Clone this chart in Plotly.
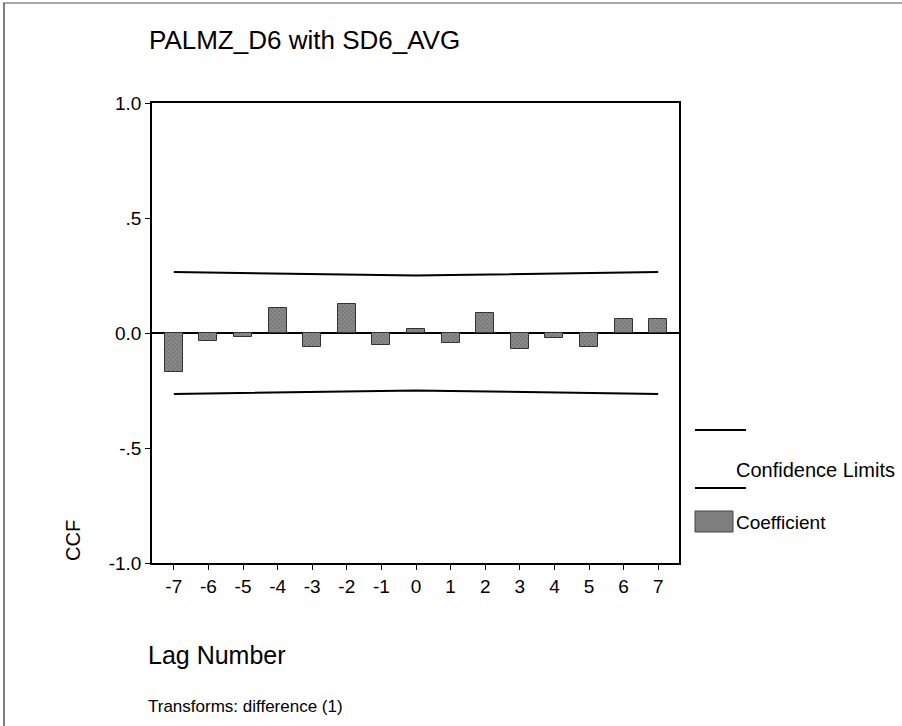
import plotly.graph_objects as go

# Cross-correlation of differenced PALMZ_D6 with SD6_AVG
lags = [-7, -6, -5, -4, -3, -2, -1, 0, 1, 2, 3, 4, 5, 6, 7]
ccf = [-0.168, -0.035, -0.017, 0.107, -0.061, 0.125, -0.054, 0.019,
       -0.045, 0.086, -0.071, -0.020, -0.061, 0.059, 0.059]
upper_limit = [0.265, 0.263, 0.260, 0.258, 0.256, 0.254, 0.252, 0.250,
               0.252, 0.254, 0.256, 0.258, 0.260, 0.263, 0.265]
lower_limit = [-0.265, -0.263, -0.260, -0.258, -0.256, -0.254, -0.252, -0.250,
               -0.252, -0.254, -0.256, -0.258, -0.260, -0.263, -0.265]
y_ticks = [-1.0, -0.5, 0.0, 0.5, 1.0]
y_tick_text = ["-1.0", "-.5", "0.0", ".5", "1.0"]

W, H = 902, 726
L, R, T, B = 152, 223, 103, 163
PW, PH = W - L - R, H - T - B
FONT = "Liberation Sans, Arial, sans-serif"


def px(x):
    return (x - L) / PW


def py(y):
    return (H - B - y) / PH


fig = go.Figure()

fig.add_trace(go.Bar(
    x=lags, y=ccf, width=0.52,
    marker=dict(
        color="#8c8c8c",
        line=dict(color="#333333", width=1),
        pattern=dict(shape="x", fgcolor="#4a4a4a", size=3, solidity=0.4),
    ),
    showlegend=False,
))
for lim in (upper_limit, lower_limit):
    fig.add_trace(go.Scatter(
        x=lags, y=lim, mode="lines",
        line=dict(color="black", width=2),
        showlegend=False,
    ))

shapes = [
    # outer frame edges
    dict(type="line", xref="paper", yref="paper",
         x0=px(3), x1=px(902), y0=py(3), y1=py(3),
         line=dict(color="#555", width=1)),
    dict(type="line", xref="paper", yref="paper",
         x0=px(4), x1=px(4), y0=py(3), y1=py(726),
         line=dict(color="#555", width=1.5)),
    # legend keys
    dict(type="line", xref="paper", yref="paper",
         x0=px(695), x1=px(746), y0=py(430), y1=py(430),
         line=dict(color="black", width=2)),
    dict(type="line", xref="paper", yref="paper",
         x0=px(695), x1=px(746), y0=py(488), y1=py(488),
         line=dict(color="black", width=2)),
    dict(type="rect", xref="paper", yref="paper",
         x0=px(695), x1=px(733), y0=py(532), y1=py(511),
         fillcolor="#7e7e7e", line=dict(color="#444", width=1)),
]

annotations = [
    dict(text="PALMZ_D6 with SD6_AVG", x=px(147), y=py(40),
         xanchor="left", yanchor="middle", font=dict(size=26)),
    dict(text="CCF", x=px(73), y=py(541), textangle=-90,
         xanchor="center", yanchor="middle", font=dict(size=20)),
    dict(text="Lag Number", x=px(146), y=py(655),
         xanchor="left", yanchor="middle", font=dict(size=25)),
    dict(text="Transforms: difference (1)", x=px(146), y=py(706),
         xanchor="left", yanchor="middle", font=dict(size=17)),
    dict(text="Confidence Limits", x=px(734), y=py(470),
         xanchor="left", yanchor="middle", font=dict(size=20)),
    dict(text="Coefficient", x=px(734), y=py(522),
         xanchor="left", yanchor="middle", font=dict(size=19)),
]
for a in annotations:
    a.update(xref="paper", yref="paper", showarrow=False)
    a["font"].update(family=FONT, color="black")

fig.update_layout(
    width=W, height=H,
    margin=dict(l=L, r=R, t=T, b=B, pad=0),
    paper_bgcolor="white", plot_bgcolor="white",
    font=dict(family=FONT, color="black", size=20),
    bargap=0,
    shapes=shapes,
    annotations=annotations,
    xaxis=dict(
        range=[-7.63, 7.6], tickmode="array", tickvals=lags,
        ticktext=[str(v) for v in lags],
        ticks="outside", ticklen=5, tickcolor="black", tickwidth=1,
        showline=True, linecolor="black", linewidth=1.5, mirror=True,
        showgrid=False, zeroline=False,
        tickfont=dict(size=19),
    ),
    yaxis=dict(
        range=[-1, 1], tickmode="array", tickvals=y_ticks, ticktext=y_tick_text,
        ticks="outside", ticklen=5, tickcolor="black", tickwidth=1,
        showline=True, linecolor="black", linewidth=1.5, mirror=True,
        showgrid=False, zeroline=True, zerolinecolor="black", zerolinewidth=1.5,
        tickfont=dict(size=19),
    ),
)

fig.write_html("out.html", config={"displayModeBar": False})
